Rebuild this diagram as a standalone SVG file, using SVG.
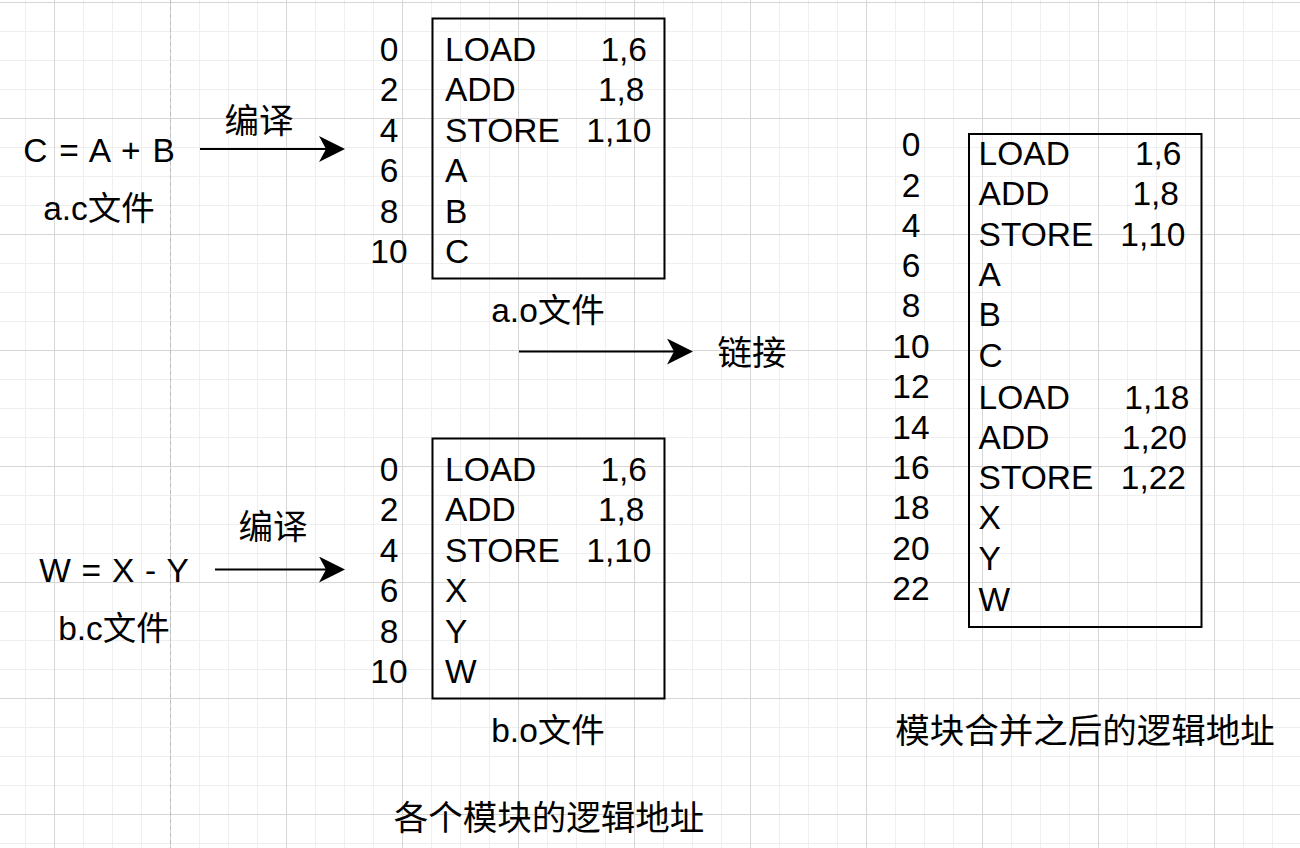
<svg xmlns="http://www.w3.org/2000/svg" width="1300" height="848" viewBox="0 0 1300 848">
<style>
.t{font-family:"Liberation Sans","Noto Sans CJK SC",sans-serif;font-size:33.5px;fill:#000}
.c{font-family:"Liberation Sans","Noto Sans CJK SC",sans-serif;font-size:34.5px;fill:#000}
.m{text-anchor:middle}
.e{text-anchor:end}
.box{fill:none;stroke:#000;stroke-width:2}
.conn{stroke:#000;stroke-width:2;fill:none}
</style>
<defs>
<pattern id="grid" x="54" y="2" width="116" height="116" patternUnits="userSpaceOnUse">
<path d="M29.5 0V116M58.5 0V116M87.5 0V116M0 29.5H116M0 58.5H116M0 87.5H116" stroke="#efefef" stroke-width="1"/>
<path d="M0.5 0V116M0 0.5H116" stroke="#d6d6d6" stroke-width="1"/>
</pattern>
<marker id="arr" viewBox="0 0 26 26" markerWidth="26" markerHeight="26" refX="18" refY="13" orient="auto" markerUnits="userSpaceOnUse">
<path d="M0,0 L26,13 L0,26 L7,13 Z" fill="#000"/>
</marker>
</defs>
<rect width="1300" height="848" fill="#fff"/>
<rect width="1300" height="848" fill="url(#grid)"/>
<line x1="170.5" y1="0" x2="170.5" y2="848" stroke="#bdbdbd" stroke-width="1" stroke-dasharray="4 3"/>

<g id="connectors">
<line class="conn" x1="200" y1="149" x2="337" y2="149" marker-end="url(#arr)"/>
<line class="conn" x1="215" y1="569.5" x2="337" y2="569.5" marker-end="url(#arr)"/>
<line class="conn" x1="519" y1="351.5" x2="685" y2="351.5" marker-end="url(#arr)"/>
</g>

<g id="src-a">
<text class="t m" x="99" y="161.5" word-spacing="2.5">C = A + B</text>
<text class="t m" x="99" y="220">a.c文件</text>
</g>
<g id="label-compile-a"><text class="c m" x="259" y="133">编译</text></g>

<g id="src-b">
<text class="t m" x="114" y="581.5" word-spacing="1.5">W = X - Y</text>
<text class="t m" x="114" y="640">b.c文件</text>
</g>
<g id="label-compile-b"><text class="c m" x="273" y="539">编译</text></g>

<g id="obj-a">
<rect class="box" x="432.5" y="18.5" width="232" height="260"/>
<text class="t m" x="389" y="61">0</text>
<text class="t m" x="389" y="101">2</text>
<text class="t m" x="389" y="141.5">4</text>
<text class="t m" x="389" y="182">6</text>
<text class="t m" x="389" y="222.5">8</text>
<text class="t m" x="389" y="262.5">10</text>
<text class="t" x="445" y="61">LOAD</text>
<text class="t" x="445" y="101">ADD</text>
<text class="t" x="445" y="141.5">STORE</text>
<text class="t" x="445" y="182">A</text>
<text class="t" x="445" y="222.5">B</text>
<text class="t" x="445" y="262.5">C</text>
<text class="t e" x="647" y="61">1,6</text>
<text class="t e" x="644.5" y="101">1,8</text>
<text class="t e" x="651.5" y="141.5">1,10</text>
<text class="t m" x="548" y="321.5">a.o文件</text>
</g>

<g id="obj-b">
<rect class="box" x="432.5" y="438.5" width="232" height="260"/>
<text class="t m" x="389" y="481">0</text>
<text class="t m" x="389" y="521">2</text>
<text class="t m" x="389" y="561.5">4</text>
<text class="t m" x="389" y="602">6</text>
<text class="t m" x="389" y="642.5">8</text>
<text class="t m" x="389" y="682.5">10</text>
<text class="t" x="445" y="481">LOAD</text>
<text class="t" x="445" y="521">ADD</text>
<text class="t" x="445" y="561.5">STORE</text>
<text class="t" x="445" y="602">X</text>
<text class="t" x="445" y="642.5">Y</text>
<text class="t" x="445" y="682.5">W</text>
<text class="t e" x="647" y="481">1,6</text>
<text class="t e" x="644.5" y="521">1,8</text>
<text class="t e" x="651.5" y="561.5">1,10</text>
<text class="t m" x="548" y="741.5">b.o文件</text>
</g>

<g id="label-link"><text class="c m" x="752" y="365">链接</text></g>

<g id="merged">
<rect class="box" x="969" y="134" width="232.5" height="493"/>
<text class="t m" x="911" y="156">0</text>
<text class="t m" x="911" y="196.5">2</text>
<text class="t m" x="911" y="236.5">4</text>
<text class="t m" x="911" y="276.7">6</text>
<text class="t m" x="911" y="317">8</text>
<text class="t m" x="911" y="358">10</text>
<text class="t m" x="911" y="398.3">12</text>
<text class="t m" x="911" y="439">14</text>
<text class="t m" x="911" y="479">16</text>
<text class="t m" x="911" y="519">18</text>
<text class="t m" x="911" y="560">20</text>
<text class="t m" x="911" y="600">22</text>
<text class="t" x="978.6" y="165">LOAD</text>
<text class="t" x="978.6" y="205">ADD</text>
<text class="t" x="978.6" y="245.5">STORE</text>
<text class="t" x="978.6" y="285.7">A</text>
<text class="t" x="978.6" y="326">B</text>
<text class="t" x="978.6" y="366.5">C</text>
<text class="t" x="978.6" y="408.5">LOAD</text>
<text class="t" x="978.6" y="448.5">ADD</text>
<text class="t" x="978.6" y="489">STORE</text>
<text class="t" x="978.6" y="529.3">X</text>
<text class="t" x="978.6" y="570">Y</text>
<text class="t" x="978.6" y="610.7">W</text>
<text class="t e" x="1181.5" y="165">1,6</text>
<text class="t e" x="1179" y="205">1,8</text>
<text class="t e" x="1185.5" y="245.5">1,10</text>
<text class="t e" x="1189.5" y="408.5">1,18</text>
<text class="t e" x="1187" y="448.5">1,20</text>
<text class="t e" x="1186" y="489">1,22</text>
</g>

<g id="caption-merged"><text class="c m" x="1085" y="743">模块合并之后的逻辑地址</text></g>
<g id="caption-modules"><text class="c m" x="549" y="830">各个模块的逻辑地址</text></g>
</svg>
